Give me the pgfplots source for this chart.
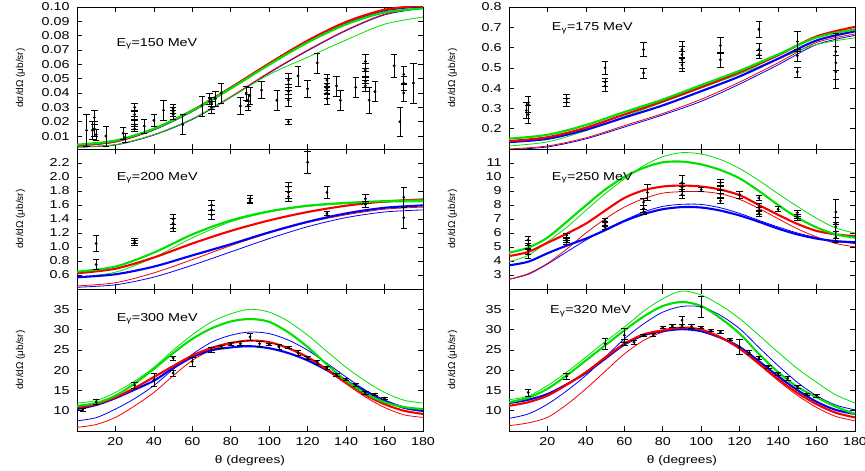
\documentclass[border=0pt]{standalone}
\usepackage{fontspec}
\setmainfont{Liberation Sans}[FakeStretch=1.25]
\newfontfamily\ylfont{Liberation Sans}
\usepackage{pgfplots}
\pgfplotsset{compat=1.18}
\definecolor{cg}{RGB}{0,225,0}
\definecolor{cr}{RGB}{245,0,0}
\definecolor{cb}{RGB}{0,0,245}
\pgfplotsset{
  panel/.style={scale only axis, width=346bp, xmin=0, xmax=180, xtick={20,40,...,180},
    tick align=inside, tick pos=both, major tick length=5bp,
    axis line style={line width=0.9bp}, every tick/.style={line width=0.7bp, black},
    /pgf/number format/assume math mode=true,
    ticklabel style={font=\fontsize{11.5}{13}\selectfont},
    yticklabel style={xshift=-4bp},
    xticklabel style={yshift=-3bp},
    ylabel={dσ/dΩ (μb/sr)},
    ylabel style={font=\ylfont\fontsize{10}{12}\selectfont, at={(axis description cs:-0.163,0.5)}, anchor=center},
    xlabel style={font=\fontsize{11}{13}\selectfont, at={(axis description cs:0.5,-0.21)}, anchor=center}},
  notx/.style={xticklabels={}},
  thk/.style={line width=2.1bp, smooth},
  thn/.style={line width=0.8bp, smooth},
  dat/.style={only marks, mark=*, mark size=1.2bp, black,
    error bars/.cd, y dir=both, y explicit, error bar style={line width=0.6bp, black},
    error mark options={rotate=90, black, mark size=3.2bp, line width=0.6bp}},
}
\newcommand{\elab}[3]{\node[anchor=west, font=\fontsize{11.5}{13}\selectfont] at (rel axis cs:#1,#2) {E\textsubscript{γ}=#3 MeV};}
\begin{document}
\begin{tikzpicture}
\useasboundingbox (0,0) rectangle (865bp,471bp);
% ---------------- 150 MeV
\begin{axis}[panel, notx, at={(77bp,464bp)}, anchor=north west, height=142bp,
  ymin=0.001, ymax=0.1, ytick={0.01,0.02,...,0.101},
  yticklabel style={/pgf/number format/.cd, fixed, fixed zerofill, precision=2}]
\addplot[cb,thn] coordinates {(0,0.0023)(20,0.0038)(40,0.0107)(60,0.0216)(80,0.0370)(100,0.0540)(120,0.0695)(140,0.0835)(160,0.0945)(180,0.0992)};
\addplot[cr,thn] coordinates {(0,0.0025)(20,0.0040)(40,0.0110)(60,0.0220)(80,0.0375)(100,0.0545)(120,0.0700)(140,0.0840)(160,0.0950)(180,0.0995)};
\addplot[cg,thn] coordinates {(0,0.0025)(20,0.0040)(40,0.0110)(60,0.0220)(80,0.0370)(100,0.0530)(120,0.0650)(140,0.0770)(160,0.0880)(180,0.0930)};
\addplot[cb,thk] coordinates {(0,0.0035)(20,0.0063)(40,0.0147)(60,0.0276)(80,0.0434)(100,0.0603)(120,0.0762)(140,0.0892)(160,0.0977)(180,0.1005)};
\addplot[cr,thk] coordinates {(0,0.0035)(20,0.0064)(40,0.0149)(60,0.0279)(80,0.0438)(100,0.0607)(120,0.0766)(140,0.0896)(160,0.0981)(180,0.1010)};
\addplot[cg,thk] coordinates {(0,0.0040)(20,0.0069)(40,0.0151)(60,0.0278)(80,0.0432)(100,0.0598)(120,0.0753)(140,0.0879)(160,0.0962)(180,0.0990)};
\addplot[dat] table[y error=e, row sep=\\] {x y e\\
5 0.014 0.011\\ 9 0.023 0.005\\ 9 0.015 0.005\\ 10 0.011 0.004\\ 8 0.014 0.006\\
15 0.010 0.007\\ 24 0.012 0.004\\ 25 0.009 0.003\\
30 0.030 0.003\\ 30 0.025 0.003\\ 30 0.021 0.003\\ 30 0.018 0.003\\ 30 0.015 0.002\\
35 0.017 0.005\\ 40 0.021 0.004\\ 45 0.028 0.007\\
50 0.029 0.003\\ 50 0.027 0.003\\ 50 0.025 0.003\\ 55 0.018 0.007\\
65 0.031 0.007\\ 69 0.036 0.004\\ 70 0.033 0.004\\ 70 0.030 0.004\\ 70 0.034 0.003\\
72 0.036 0.005\\ 75 0.040 0.007\\ 85 0.031 0.006\\
88 0.040 0.005\\ 89 0.035 0.004\\ 89 0.031 0.003\\ 90 0.038 0.006\\ 96 0.042 0.006\\
104 0.035 0.007\\ 110 0.049 0.005\\ 110 0.046 0.004\\ 110 0.041 0.005\\ 110 0.035 0.004\\ 110 0.020 0.002\\
115 0.052 0.007\\ 120 0.043 0.006\\ 125 0.061 0.007\\
130 0.049 0.004\\ 130 0.046 0.004\\ 130 0.043 0.004\\ 130 0.040 0.004\\ 130 0.036 0.004\\
135 0.045 0.007\\ 137 0.035 0.007\\ 145 0.044 0.007\\
150 0.062 0.005\\ 150 0.056 0.005\\ 150 0.051 0.004\\ 150 0.048 0.004\\ 150 0.045 0.004\\
152 0.035 0.009\\ 155 0.041 0.007\\ 165 0.059 0.008\\ 168 0.020 0.010\\
170 0.053 0.006\\ 170 0.047 0.005\\ 170 0.040 0.006\\ 175 0.047 0.014\\
};
\elab{0.104}{0.74}{150}
\end{axis}
% ---------------- 175 MeV
\begin{axis}[panel, notx, at={(509bp,464bp)}, anchor=north west, height=142bp,
  ymin=0.1, ymax=0.8, ytick={0.2,0.3,...,0.81},
  yticklabel style={/pgf/number format/.cd, fixed, fixed zerofill, precision=1}]
\addplot[cb,thn] coordinates {(0,0.097)(20,0.110)(40,0.150)(60,0.208)(80,0.268)(100,0.335)(120,0.420)(140,0.515)(160,0.615)(180,0.660)};
\addplot[cr,thn] coordinates {(0,0.100)(20,0.115)(40,0.155)(60,0.215)(80,0.275)(100,0.345)(120,0.430)(140,0.525)(160,0.625)(180,0.667)};
\addplot[cg,thn] coordinates {(0,0.115)(20,0.135)(40,0.190)(60,0.260)(80,0.330)(100,0.400)(120,0.470)(140,0.545)(160,0.615)(180,0.648)};
\addplot[cb,thk] coordinates {(0,0.134)(20,0.150)(40,0.195)(60,0.255)(80,0.315)(100,0.385)(120,0.458)(140,0.545)(160,0.635)(180,0.680)};
\addplot[cr,thk] coordinates {(0,0.139)(20,0.158)(40,0.205)(60,0.270)(80,0.335)(100,0.405)(120,0.478)(140,0.562)(160,0.655)(180,0.702)};
\addplot[cg,thk] coordinates {(0,0.151)(20,0.170)(40,0.218)(60,0.282)(80,0.344)(100,0.415)(120,0.486)(140,0.566)(160,0.650)(180,0.689)};
\addplot[dat] table[y error=e, row sep=\\] {x y e\\
10 0.32 0.04\\ 10 0.27 0.045\\ 9 0.29 0.04\\
30 0.348 0.02\\ 30 0.33 0.02\\
50 0.50 0.03\\ 50 0.43 0.02\\ 50 0.41 0.025\\
70 0.59 0.035\\ 70 0.475 0.025\\
90 0.59 0.04\\ 90 0.565 0.04\\ 90 0.54 0.04\\ 90 0.515 0.03\\
110 0.61 0.04\\ 110 0.54 0.035\\
130 0.69 0.04\\ 130 0.59 0.03\\ 130 0.565 0.02\\
150 0.63 0.05\\ 150 0.56 0.03\\ 150 0.48 0.025\\
170 0.58 0.09\\ 170 0.525 0.08\\ 170 0.48 0.08\\
};
\elab{0.114}{0.851}{175}
\end{axis}
% ---------------- 200 MeV
\begin{axis}[panel, notx, at={(77bp,322bp)}, anchor=north west, height=140bp,
  ymin=0.4, ymax=2.4, ytick={0.6,0.8,...,2.21},
  yticklabel style={/pgf/number format/.cd, fixed, fixed zerofill, precision=1}]
\addplot[cb,thn] coordinates {(0,0.425)(20,0.46)(40,0.57)(60,0.74)(80,0.93)(100,1.12)(120,1.29)(140,1.42)(160,1.50)(180,1.53)};
\addplot[cr,thn] coordinates {(0,0.444)(20,0.49)(40,0.63)(60,0.82)(80,1.02)(100,1.20)(120,1.35)(140,1.46)(160,1.54)(180,1.57)};
\addplot[cg,thn] coordinates {(0,0.57)(20,0.64)(40,0.85)(60,1.13)(80,1.36)(100,1.50)(120,1.58)(140,1.62)(160,1.64)(180,1.645)};
\addplot[cb,thk] coordinates {(0,0.567)(20,0.61)(40,0.72)(60,0.88)(80,1.04)(100,1.21)(120,1.36)(140,1.48)(160,1.56)(180,1.594)};
\addplot[cr,thk] coordinates {(0,0.625)(20,0.69)(40,0.85)(60,1.05)(80,1.23)(100,1.38)(120,1.50)(140,1.59)(160,1.65)(180,1.68)};
\addplot[cg,thk] coordinates {(0,0.647)(20,0.72)(40,0.92)(60,1.18)(80,1.38)(100,1.51)(120,1.59)(140,1.63)(160,1.655)(180,1.665)};
\addplot[dat] table[y error=e, row sep=\\] {x y e\\
10 1.05 0.11\\ 10 0.75 0.07\\
30 1.09 0.04\\ 30 1.06 0.03\\
50 1.40 0.07\\ 50 1.34 0.07\\ 50 1.27 0.05\\
70 1.60 0.07\\ 70 1.53 0.07\\ 70 1.46 0.07\\
90 1.69 0.05\\ 90 1.66 0.04\\
110 1.86 0.07\\ 110 1.78 0.08\\ 110 1.72 0.07\\
120 2.21 0.16\\
130 1.78 0.08\\ 130 1.48 0.03\\
150 1.69 0.06\\ 150 1.61 0.04\\
170 1.71 0.14\\ 170 1.42 0.15\\
};
\elab{0.105}{0.794}{200}
\end{axis}
% ---------------- 250 MeV
\begin{axis}[panel, notx, at={(509bp,322bp)}, anchor=north west, height=140bp,
  ymin=2, ymax=12, ytick={3,4,...,11}]
\addplot[cb,thn] coordinates {(0,2.69)(10,3.05)(20,3.78)(30,4.65)(40,5.49)(50,6.25)(60,6.9)(70,7.5)(80,7.9)(90,8.05)(100,8.04)(110,7.8)(120,7.4)(130,6.9)(140,6.43)(150,6.0)(160,5.67)(170,5.4)(180,5.25)};
\addplot[cr,thn] coordinates {(0,2.69)(10,3.1)(20,3.83)(30,4.85)(40,6.0)(50,7.0)(60,7.85)(70,8.45)(80,8.85)(90,8.95)(100,8.96)(110,8.8)(120,8.4)(130,7.75)(140,7.02)(150,6.3)(160,5.72)(170,5.25)(180,5.01)};
\addplot[cg,thn] coordinates {(0,3.95)(10,4.4)(20,5.37)(30,6.4)(40,7.62)(50,8.8)(60,9.86)(70,10.8)(80,11.45)(90,11.74)(100,11.64)(110,11.25)(120,10.6)(130,9.75)(140,8.8)(150,7.9)(160,7.05)(170,6.35)(180,6.0)};
\addplot[cb,thk] coordinates {(0,3.69)(10,3.95)(20,4.55)(30,5.1)(40,5.6)(50,6.2)(60,6.85)(70,7.35)(80,7.7)(90,7.85)(100,7.82)(110,7.6)(120,7.25)(130,6.8)(140,6.31)(150,5.9)(160,5.6)(170,5.42)(180,5.34)};
\addplot[cr,thk] coordinates {(0,4.35)(10,4.65)(20,5.3)(30,5.95)(40,6.67)(50,7.6)(60,8.5)(70,9.05)(80,9.32)(90,9.39)(100,9.32)(110,9.1)(120,8.7)(130,8.0)(140,7.3)(150,6.65)(160,6.15)(170,5.9)(180,5.77)};
\addplot[cg,thk] coordinates {(0,4.59)(10,4.95)(20,5.67)(30,6.8)(40,7.97)(50,9.1)(60,10.0)(70,10.65)(80,11.05)(90,11.1)(100,10.9)(110,10.5)(120,9.9)(130,9.0)(140,8.0)(150,7.1)(160,6.4)(170,5.9)(180,5.67)};
\addplot[dat] table[y error=e, row sep=\\] {x y e\\
10 5.5 0.25\\ 10 5.2 0.3\\ 10 4.8 0.3\\ 10 4.5 0.3\\
30 5.85 0.15\\ 30 5.5 0.15\\ 30 5.35 0.15\\
50 6.9 0.15\\ 50 6.65 0.2\\ 50 6.4 0.15\\
72 8.9 0.6\\ 70 8.2 0.25\\ 70 7.75 0.25\\ 70 7.5 0.2\\
90 9.6 0.5\\ 90 9.25 0.3\\ 90 9.0 0.3\\ 90 8.75 0.25\\
100 9.1 0.15\\
110 9.6 0.25\\ 110 9.35 0.3\\ 110 9.1 0.3\\ 110 8.8 0.25\\ 110 8.3 0.2\\
120 8.75 0.25\\
130 8.5 0.2\\ 130 7.85 0.3\\ 130 7.6 0.25\\ 130 7.4 0.2\\
140 7.7 0.18\\
150 7.45 0.15\\ 150 7.2 0.15\\ 150 7.05 0.15\\
170 7.5 0.9\\ 170 6.65 0.5\\ 170 6.45 0.3\\ 170 6.1 0.5\\ 170 5.7 0.4\\
};
\elab{0.114}{0.794}{250}
\end{axis}
% ---------------- 300 MeV
\begin{axis}[panel, at={(77bp,182bp)}, anchor=north west, height=142bp,
  ymin=5, ymax=40, ytick={10,15,...,35}, xlabel={θ (degrees)}]
\addplot[cb,thn] coordinates {(0,7.5)(10,8.3)(20,10.4)(30,13.0)(40,16.2)(50,20.2)(60,23.9)(70,26.9)(80,28.6)(90,29.4)(100,29.0)(110,27.4)(120,24.9)(130,21.7)(140,18.3)(150,15.1)(160,12.5)(170,10.6)(180,9.8)};
\addplot[cr,thn] coordinates {(0,5.9)(10,6.6)(20,8.35)(30,11.2)(40,14.5)(50,18.6)(60,22.4)(70,25.0)(80,26.5)(90,27.3)(100,26.9)(110,25.3)(120,23.0)(130,19.9)(140,16.6)(150,13.4)(160,10.8)(170,9.0)(180,8.35)};
\addplot[cg,thn] coordinates {(0,11.9)(10,12.5)(20,14.5)(30,17.3)(40,20.7)(50,24.9)(60,28.7)(70,31.9)(80,33.9)(90,35.0)(100,34.3)(110,32.0)(120,28.6)(130,24.6)(140,20.7)(150,17.3)(160,14.5)(170,12.6)(180,11.9)};
\addplot[cb,thk] coordinates {(0,10.4)(10,11.4)(20,13.1)(30,15.2)(40,17.4)(50,20.5)(60,23.2)(70,24.9)(80,25.6)(90,25.9)(100,25.4)(110,24.2)(120,22.4)(130,20.0)(140,17.4)(150,14.8)(160,12.5)(170,10.8)(180,10.0)};
\addplot[cr,thk] coordinates {(0,10.8)(10,11.6)(20,13.3)(30,15.6)(40,18.3)(50,21.0)(60,23.6)(70,25.5)(80,26.7)(90,27.3)(100,26.9)(110,25.4)(120,23.2)(130,20.2)(140,17.0)(150,13.9)(160,11.6)(170,10.0)(180,9.2)};
\addplot[cg,thk] coordinates {(0,11.2)(10,11.9)(20,13.7)(30,16.7)(40,20.3)(50,24.2)(60,27.7)(70,30.3)(80,32.0)(90,32.6)(100,31.9)(110,29.3)(120,25.7)(130,21.4)(140,17.4)(150,14.3)(160,12.1)(170,10.9)(180,10.4)};
\addplot[dat] table[y error=e, row sep=\\] {x y e\\
3 10.2 0.3\\ 10 12.1 0.6\\ 30 16.3 0.7\\ 40 17.6 1.7\\
50 23.0 0.5\\ 50 19.3 0.7\\ 60 22.1 1.1\\ 70 25.0 0.7\\ 75 25.8 0.4\\
80 26.4 0.4\\ 85 26.5 0.5\\ 90 28.2 0.9\\ 95 26.5 0.6\\ 100 26.3 0.3\\
105 25.8 0.6\\ 110 25.6 0.3\\ 115 24.2 0.6\\ 120 23.0 0.3\\ 125 22.0 0.5\\
130 20.6 0.3\\ 135 18.8 0.4\\ 140 17.7 0.3\\ 145 16.4 0.4\\ 150 14.4 0.3\\
155 14.1 0.3\\ 160 13.1 0.3\\
};
\elab{0.105}{0.79}{300}
\end{axis}
% ---------------- 320 MeV
\begin{axis}[panel, at={(509bp,182bp)}, anchor=north west, height=142bp,
  ymin=5, ymax=40, ytick={10,15,...,35}, xlabel={θ (degrees)}]
\addplot[cb,thn] coordinates {(0,8.1)(10,9.2)(20,11.6)(30,14.9)(40,18.7)(50,23.2)(60,27.7)(70,31.4)(80,34.3)(90,35.7)(100,35.6)(110,33.5)(120,30.2)(130,25.6)(140,21.1)(150,17.0)(160,13.7)(170,11.4)(180,10.2)};
\addplot[cr,thn] coordinates {(0,6.3)(10,7.0)(20,8.35)(30,11.5)(40,15.4)(50,19.7)(60,24.0)(70,27.3)(80,29.4)(90,30.4)(100,30.0)(110,28.1)(120,25.3)(130,21.4)(140,17.4)(150,13.8)(160,10.8)(170,8.6)(180,7.5)};
\addplot[cg,thn] coordinates {(0,12.7)(10,13.6)(20,16.2)(30,19.5)(40,23.2)(50,27.0)(60,30.6)(70,34.5)(80,37.6)(90,39.5)(100,38.5)(110,36.0)(120,32.7)(130,28.6)(140,24.4)(150,20.4)(160,17.0)(170,13.9)(180,11.9)};
\addplot[cb,thk] coordinates {(0,11.9)(10,12.7)(20,14.1)(30,16.5)(40,19.3)(50,22.8)(60,26.3)(70,28.6)(80,29.6)(90,30.1)(100,29.6)(110,28.0)(120,25.7)(130,22.2)(140,18.5)(150,15.1)(160,12.2)(170,10.2)(180,9.2)};
\addplot[cr,thk] coordinates {(0,11.2)(10,12.1)(20,13.7)(30,16.4)(40,19.5)(50,23.1)(60,26.5)(70,28.8)(80,29.8)(90,30.5)(100,30.0)(110,28.1)(120,25.3)(130,21.6)(140,17.8)(150,14.4)(160,11.6)(170,9.5)(180,8.35)};
\addplot[cg,thk] coordinates {(0,12.1)(10,13.2)(20,15.4)(30,18.7)(40,22.4)(50,26.1)(60,29.8)(70,33.2)(80,35.8)(90,36.8)(100,35.8)(110,32.8)(120,29.0)(130,24.0)(140,19.5)(150,15.9)(160,13.3)(170,11.0)(180,9.2)};
\addplot[dat] table[y error=e, row sep=\\] {x y e\\
10 14.5 0.9\\ 30 18.5 0.7\\ 50 26.5 1.4\\ 60 28.6 1.8\\ 60 26.9 0.8\\
65 26.9 0.5\\ 70 28.6 0.3\\ 75 28.7 0.3\\ 80 30.6 0.3\\ 85 30.9 0.3\\
90 32.3 0.9\\ 90 31.0 0.4\\ 95 30.8 0.5\\ 100 35.6 2.5\\ 100 30.5 0.3\\
105 29.8 0.3\\ 110 29.4 0.3\\ 115 27.6 0.3\\ 120 25.7 1.9\\ 125 24.3 0.5\\
130 23.0 0.3\\ 135 20.9 0.4\\ 140 19.1 0.3\\ 145 18.0 0.4\\ 150 15.9 0.3\\
155 14.1 0.3\\ 160 13.7 0.3\\
};
\elab{0.109}{0.844}{320}
\end{axis}
\end{tikzpicture}
\end{document}
